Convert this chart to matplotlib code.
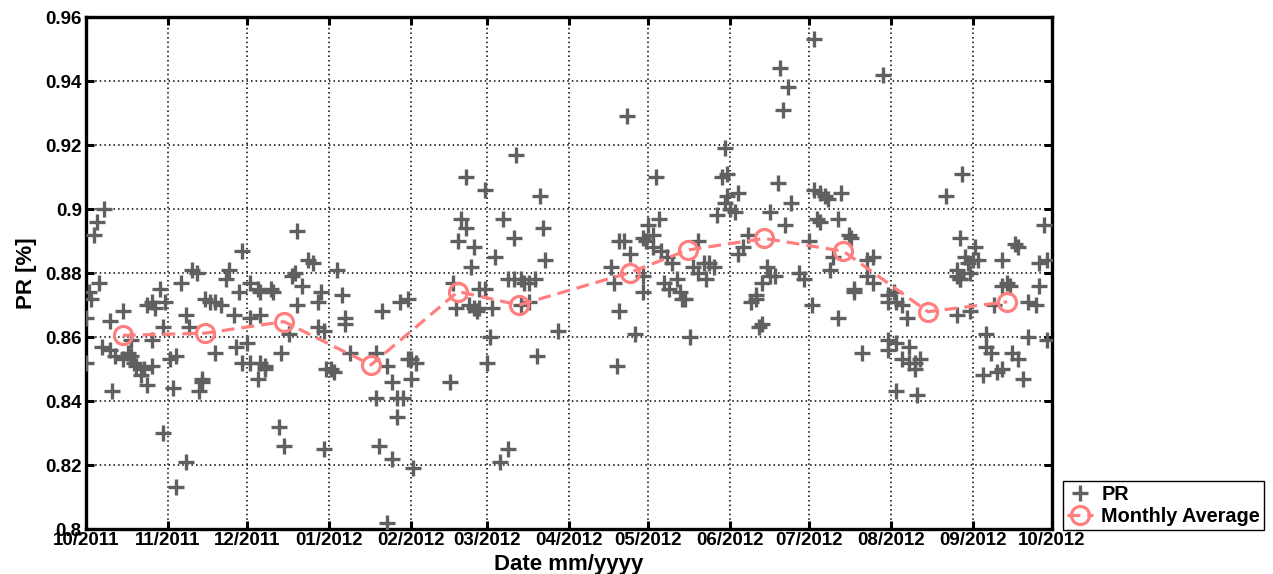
import matplotlib
matplotlib.use("Agg")
import matplotlib.pyplot as plt
import matplotlib.dates as mdates
import pandas as pd
from matplotlib.ticker import MultipleLocator, FormatStrFormatter

# Daily performance ratio, grouped by month: (day of month, PR)
oct_day = [1, 1, 2, 3, 4, 5, 6, 8, 7, 10, 10, 11, 12, 15, 15, 17, 18, 18, 19, 20, 23, 22, 24, 24, 26, 26, 26, 27, 29, 30, 31, 30]
oct_pr = [.866, .852, .874, .872, .892, .896, .877, .900, .857, .865, .856, .843, .854, .868, .853, .855, .854, .859, .852, .851,
          .850, .848, .845, .870, .851, .871, .859, .869, .875, .863, .871, .830]

nov_day = [2, 4, 3, 4, 6, 8, 8, 10, 12, 9, 13, 14, 14, 15, 17, 19, 21, 19, 23, 24, 26, 28, 27, 29, 29]
nov_pr = [.853, .854, .844, .813, .877, .867, .821, .881, .880, .863, .843, .846, .847, .872, .871, .871, .870, .855, .878,
          .881, .867, .874, .857, .887, .852]

dec_day = [2, 5, 6, 10, 11, 2, 6, 1, 2, 6, 8, 8, 5, 14, 17, 13, 15, 18, 19, 20, 22, 20, 24, 26, 28, 29, 28, 30, 30, 31]
dec_pr = [.877, .875, .874, .875, .874, .866, .867, .858, .852, .852, .851, .850, .847, .855, .861, .832, .826, .879, .880,
          .893, .876, .870, .884, .883, .871, .874, .863, .862, .825, .850]

jan_day = [2, 3, 4, 6, 7, 7, 9, 21, 28, 19, 23, 25, 19, 27, 29, 27, 20, 25, 23, 31, 31]
jan_pr = [.850, .849, .881, .873, .866, .864, .855, .868, .871, .855, .851, .846, .841, .841, .841, .835, .826, .822, .802,
          .853, .872]

feb_day = [1, 3, 1, 2, 16, 17, 18, 20, 22, 19, 25, 24, 22, 29, 27, 29, 23, 25, 26, 27]
feb_pr = [.853, .852, .847, .819, .846, .877, .869, .897, .894, .890, .888, .882, .910, .906, .875, .875, .870, .869, .868,
          .869]

mar_day = [1, 2, 3, 4, 7, 12, 11, 9, 11, 14, 15, 17, 19, 14, 17, 20, 21, 22, 23, 28, 6, 9]
mar_pr = [.852, .860, .869, .885, .897, .917, .891, .878, .878, .878, .877, .877, .878, .870, .871, .854, .904, .894, .884,
          .862, .821, .825]

apr_day = [23, 20, 22, 17, 18, 24, 29, 29, 20, 26, 19, 29, 30]
apr_pr = [.929, .890, .890, .882, .877, .886, .879, .874, .868, .861, .851, .891, .890]

may_day = [1, 4, 5, 3, 3, 6, 8, 10, 7, 9, 12, 13, 14, 15, 17, 20, 18, 20, 23, 24, 26, 22, 27, 29, 30, 30, 31, 31]
may_pr = [.895, .910, .897, .892, .888, .887, .885, .883, .877, .875, .878, .874, .872, .872, .860, .890, .882, .880, .878,
          .883, .882, .883, .898, .910, .919, .902, .911, .904]

jun_day = [4, 1, 3, 19, 20, 23, 21, 24, 16, 22, 8, 6, 4, 15, 16, 18, 13, 11, 9, 11, 13, 12, 27, 29]
jun_pr = [.905, .900, .899, .908, .944, .938, .931, .902, .899, .895, .892, .888, .886, .882, .879, .879, .877, .873, .871,
          .872, .864, .863, .880, .878]

jul_day = [2, 3, 3, 5, 7, 8, 13, 4, 5, 12, 1, 10, 9, 16, 17, 18, 18, 12, 23, 25, 23, 25, 29, 31, 31, 31, 31, 21]
jul_pr = [.870, .953, .906, .905, .904, .903, .905, .897, .896, .897, .890, .885, .881, .892, .891, .875, .874, .866, .884,
          .885, .879, .877, .942, .871, .873, .859, .856, .855]

aug_day = [2, 3, 5, 7, 3, 8, 5, 8, 10, 12, 10, 3, 11, 22, 28, 27, 26, 27, 27, 26, 29, 30, 31, 26, 31]
aug_pr = [.874, .871, .870, .866, .858, .857, .853, .852, .852, .853, .850, .843, .842, .904, .911, .891, .881, .878, .878,
          .879, .885, .883, .880, .867, .868]

sep_day = [2, 1, 3, 12, 17, 18, 28, 26, 29, 9, 12, 14, 15, 22, 25, 26, 6, 6, 8, 5, 10, 12, 16, 18, 20, 22, 29]
sep_pr = [.888, .884, .884, .884, .889, .888, .895, .883, .884, .870, .876, .877, .876, .871, .870, .876, .861, .857, .855,
          .848, .849, .850, .855, .853, .847, .860, .859]

# Monthly mean PR, placed at the mean date of each month's samples
avg_dates = ["2011-10-15", "2011-11-15", "2011-12-15", "2012-01-17", "2012-02-19", "2012-03-13",
             "2012-04-24", "2012-05-16", "2012-06-14", "2012-07-14", "2012-08-15", "2012-09-14"]
avg_pr = [0.8605, 0.8612, 0.8648, 0.8513, 0.8742, 0.8700, 0.8801, 0.8872, 0.8908, 0.8868, 0.8679, 0.8710]

month_tables = [
    (2011, 10, oct_day, oct_pr), (2011, 11, nov_day, nov_pr), (2011, 12, dec_day, dec_pr),
    (2012, 1, jan_day, jan_pr), (2012, 2, feb_day, feb_pr), (2012, 3, mar_day, mar_pr),
    (2012, 4, apr_day, apr_pr), (2012, 5, may_day, may_pr), (2012, 6, jun_day, jun_pr),
    (2012, 7, jul_day, jul_pr), (2012, 8, aug_day, aug_pr), (2012, 9, sep_day, sep_pr),
]

dates, values = [], []
for year, month, days, prs in month_tables:
    for d, v in zip(days, prs):
        dates.append(pd.Timestamp(year=year, month=month, day=d))
        values.append(v)

plt.rcParams["font.family"] = ["Liberation Sans", "DejaVu Sans"]
plt.rcParams["font.weight"] = "bold"

W, H = 1273, 574
fig = plt.figure(figsize=(W / 100, H / 100), dpi=100)
ax = fig.add_axes([86 / W, 45 / H, 966 / W, 512 / H])

ax.plot(dates, values, linestyle="none", marker="+", color="#606060",
        markersize=11, markeredgewidth=2.4, label="PR", zorder=3)
ax.plot(pd.to_datetime(avg_dates), avg_pr, linestyle=(0, (4, 2.2)), color="#ff7f7f",
        linewidth=2.3, marker="o", markersize=13, markerfacecolor="none",
        markeredgecolor="#ff7f7f", markeredgewidth=2.3, label="Monthly Average", zorder=4)

ax.set_xlim(pd.Timestamp("2011-10-01"), pd.Timestamp("2012-10-01"))
ax.set_ylim(0.8, 0.96)
ax.xaxis.set_major_locator(mdates.MonthLocator())
ax.xaxis.set_major_formatter(mdates.DateFormatter("%m/%Y"))
ax.yaxis.set_major_locator(MultipleLocator(0.02))
ax.yaxis.set_major_formatter(FormatStrFormatter("%g"))

ax.grid(True, color="black", linestyle=(0, (1, 2)), linewidth=1.1)
ax.set_axisbelow(True)
for s in ax.spines.values():
    s.set_linewidth(2.4)
ax.tick_params(direction="in", length=6, width=2.2, top=True, right=True,
               labelsize=13.5, pad=3)
ax.tick_params(axis="x", pad=2)
for lab in ax.get_xticklabels() + ax.get_yticklabels():
    lab.set_fontweight("bold")

ax.set_xlabel("Date mm/yyyy", fontsize=16, fontweight="bold", labelpad=4)
ax.set_ylabel("PR [%]", fontsize=16, fontweight="bold", labelpad=6)

leg = fig.legend(loc="lower left", bbox_to_anchor=(1063 / W, 44 / H), bbox_transform=fig.transFigure,
                 borderaxespad=0, fancybox=False, framealpha=1, edgecolor="black",
                 prop={"size": 14.3, "weight": "bold"}, handlelength=1.3, handletextpad=0.4,
                 labelspacing=0.12, borderpad=0.22)
leg.get_frame().set_linewidth(1.0)

fig.savefig("out.png", dpi=100)
